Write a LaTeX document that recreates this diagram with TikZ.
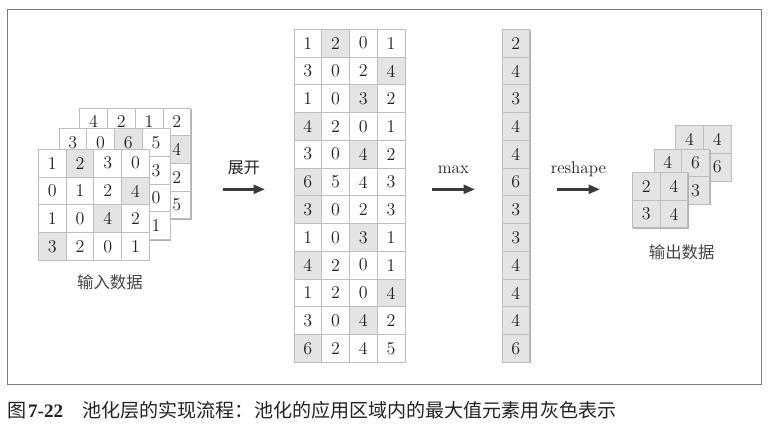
\documentclass[tikz,border=0pt]{standalone}
\usepackage{fontspec}
\newfontfamily\cjk{Noto Sans CJK SC}
\newfontfamily\capnum{Liberation Serif}
\usepackage{tikz}
\usetikzlibrary{positioning, calc, arrows.meta, shadows}

\definecolor{cellfill}{HTML}{E3E4E6}
\definecolor{cellline}{HTML}{BDBDBD}
\definecolor{framecol}{HTML}{7C7C7C}
\definecolor{arrowcol}{HTML}{3A3A3A}
\definecolor{textcol}{HTML}{222222}

\tikzset{
  cell/.style={draw=cellline, fill=white, line width=0.6pt, minimum size=20.8pt, inner sep=0pt,
    text=textcol, font=\fontsize{13.5}{16}\selectfont,
    drop shadow={shadow xshift=0.8pt, shadow yshift=-0.8pt, fill=black!30, opacity=1}},
  hit/.style={cell, fill=cellfill},
  flow/.style={draw=arrowcol, line width=2.3pt, -{Triangle[length=8.5pt, width=6.5pt]}},
  flowlabel/.style={midway, anchor=base, yshift=12pt, text=textcol, font=\fontsize{12.75}{15}\selectfont},
  stacklabel/.style={text=textcol!85, font=\cjk\fontsize{12.3}{15}\selectfont}
}

% one grid of cells, #1 name, #2 top left corner, #3 rows of value/style
\newcommand{\drawgrid}[3]{%
  \foreach \rowvals [count=\ri] in {#3} {
    \foreach \v/\s [count=\ci] in \rowvals {
      \node[\s] (#1-\ri-\ci) at ($(#2)+(\ci*27.75-13.875,\ri*27.75-13.875)$) {\v};
    }
  }
}

\begin{document}
\begin{tikzpicture}[x=0.75pt, y=-0.75pt]
  \useasboundingbox (0,0) rectangle (769,425);

  \draw[framecol, line width=0.9pt] (7.3,9.3) rectangle (761.7,384.3);

  % input data (hidden cells left empty)

  \coordinate (in3) at (79.7,107.9);
  \coordinate (in2) at ($(in3)+(-20.7,20.7)$);
  \coordinate (in1) at ($(in2)+(-20.7,20.7)$);

  \drawgrid{inC}{in3}{{4/cell,2/cell,1/cell,2/cell},{{}/cell,{}/cell,{}/cell,4/hit},{{}/cell,{}/cell,{}/cell,2/cell},{{}/cell,{}/cell,{}/cell,5/cell}}
  \drawgrid{inB}{in2}{{3/cell,0/cell,6/hit,5/cell},{{}/cell,{}/cell,{}/cell,3/cell},{{}/cell,{}/cell,{}/cell,0/cell},{{}/cell,{}/cell,{}/cell,1/cell}}
  \drawgrid{inA}{in1}{{1/cell,2/hit,3/cell,0/cell},{0/cell,1/cell,2/cell,4/hit},{1/cell,0/cell,4/hit,2/cell},{3/hit,2/cell,0/cell,1/cell}}

  \node[stacklabel] (inlabel) at (110,282.7) {输入数据};

  % expanded windows

  \coordinate (big) at (294,29.3);
  \drawgrid{big}{big}{{1/cell,2/hit,0/cell,1/cell},{3/cell,0/cell,2/cell,4/hit},{1/cell,0/cell,3/hit,2/cell},{4/hit,2/cell,0/cell,1/cell},
    {3/cell,0/cell,4/hit,2/cell},{6/hit,5/cell,4/cell,3/cell},{3/hit,0/cell,2/cell,3/cell},{1/cell,0/cell,3/hit,1/cell},
    {4/hit,2/cell,0/cell,1/cell},{1/cell,2/cell,0/cell,4/hit},{3/cell,0/cell,4/hit,2/cell},{6/hit,2/cell,4/cell,5/cell}}

  % max column

  \coordinate (maxcol) at ($(big)+(208,0)$);
  \drawgrid{mx}{maxcol}{{2/hit},{4/hit},{3/hit},{4/hit},{4/hit},{6/hit},{3/hit},{3/hit},{4/hit},{4/hit},{4/hit},{6/hit}}

  % output data (hidden cells left empty)

  \coordinate (out3) at (675.7,125.5);
  \coordinate (out2) at ($(out3)+(-21.7,23.4)$);
  \coordinate (out1) at ($(out2)+(-21.7,23.4)$);

  \drawgrid{outC}{out3}{{4/hit,4/hit},{{}/hit,6/hit}}
  \drawgrid{outB}{out2}{{4/hit,6/hit},{{}/hit,3/hit}}
  \drawgrid{outA}{out1}{{2/hit,4/hit},{3/hit,4/hit}}

  \node[stacklabel] (outlabel) at (681.7,252.7) {输出数据};

  % arrows

  \coordinate (unfold-a) at (222.7,189.3);
  \coordinate (unfold-b) at ($(unfold-a)+(42.3,0)$);
  \coordinate (max-a) at (431.7,189.3);
  \coordinate (max-b) at ($(max-a)+(43.3,0)$);
  \coordinate (reshape-a) at (556.7,189.3);
  \coordinate (reshape-b) at ($(reshape-a)+(43.3,0)$);

  \draw[flow] (unfold-a) -- node[flowlabel] {\cjk\fontsize{12}{15}\selectfont 展开} (unfold-b);
  \draw[flow] (max-a) -- node[flowlabel] {max} (max-b);
  \draw[flow] (reshape-a) -- node[flowlabel] {reshape} (reshape-b);

  % caption

  \node[anchor=base west, inner sep=0pt, text=textcol, font=\fontsize{14.3}{17}\selectfont] (caption) at (7.5,417)
    {{\cjk 图}\hspace{1pt}{\capnum\bfseries 7-22}\hspace{14.5pt}{\cjk 池化层的实现流程：池化的应用区域内的最大值元素用灰色表示}};

\end{tikzpicture}
\end{document}
